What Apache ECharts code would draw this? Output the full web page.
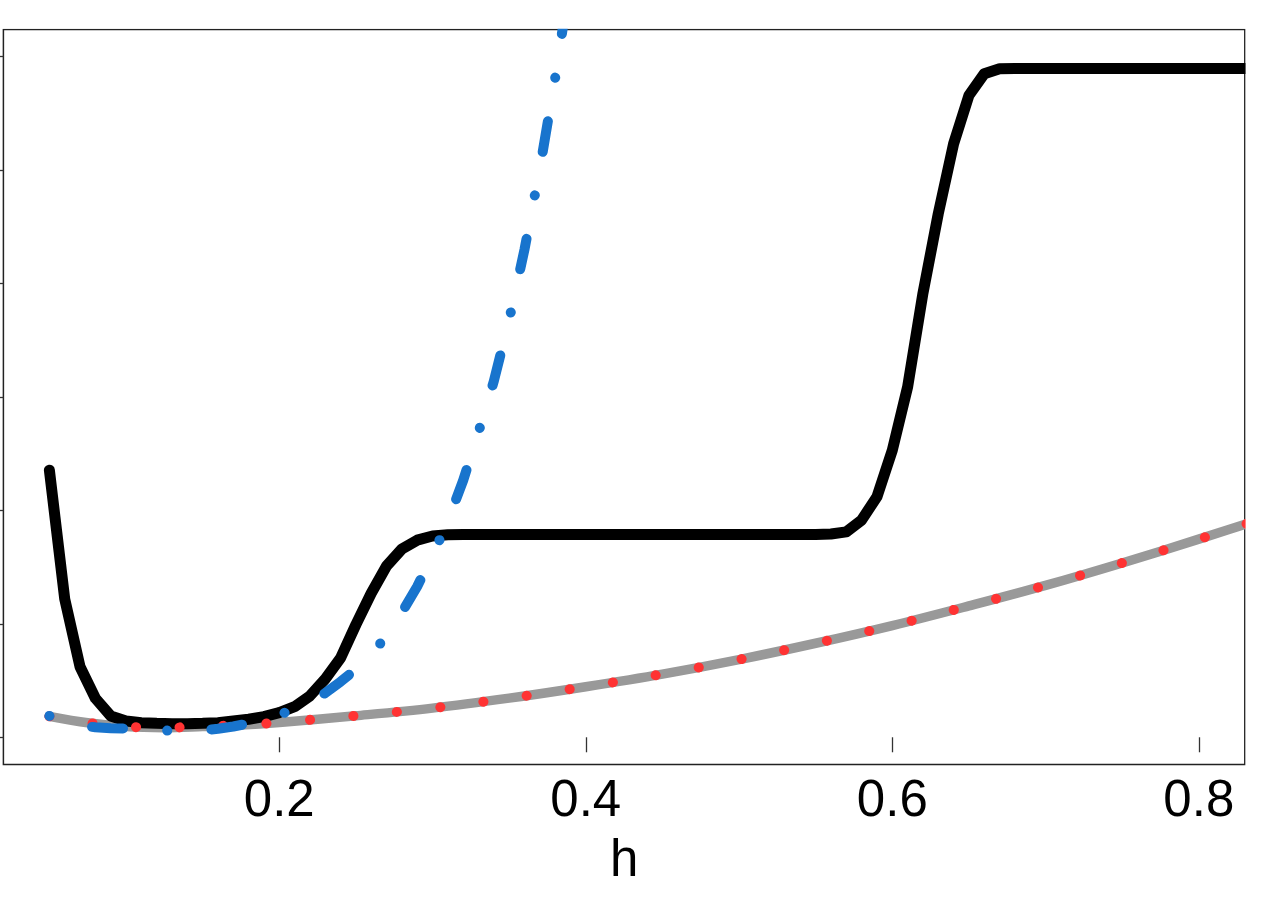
<!DOCTYPE html>
<html lang="en">
<head>
    <meta charset="UTF-8">
    <title>h curves</title>
</head>
<style>
    body{
        margin: 0;
        background-color: #fff;
    }
    .main{
        width: 1275px;
        height: 900px;
    }
</style>
<body>
<div id="main" class="main"></div>
<script src="https://cdn.jsdelivr.net/npm/echarts/dist/echarts.min.js"></script>
<script>
    // h grid used by the black and blue curves
    var hFine = [0.05,0.06,0.07,0.08,0.09,0.10,0.11,0.12,0.13,0.14,0.15,0.16,0.17,0.18,0.19,
        0.20,0.21,0.22,0.23,0.24,0.25,0.26,0.27,0.28,0.29,0.30,0.31,0.32,0.33,0.34,0.35,0.36,0.37,0.38,0.39,
        0.40,0.41,0.42,0.43,0.44,0.45,0.46,0.47,0.48,0.49,0.50,0.51,0.52,0.53,0.54,0.55,0.56,0.57,0.58,0.59,
        0.60,0.61,0.62,0.63,0.64,0.65,0.66,0.67,0.68,0.69,0.70,0.71,0.72,0.73,0.74,0.75,0.76,0.77,0.78,0.79,
        0.80,0.81,0.82,0.83,0.84,0.85];
    // black solid curve
    var blackVals = [2.355,1.22,0.622,0.344,0.188,0.144,0.129,0.123,0.120,0.120,0.123,0.129,0.144,0.159,0.182,
        0.217,0.270,0.365,0.514,0.699,0.993,1.27,1.51,1.66,1.738,1.774,1.785,1.788,1.788,1.788,1.788,1.788,1.788,1.788,1.788,
        1.788,1.788,1.788,1.788,1.788,1.788,1.788,1.788,1.788,1.788,1.788,1.788,1.788,1.788,1.788,1.788,1.792,1.811,1.915,2.120,
        2.531,3.089,3.915,4.617,5.233,5.659,5.850,5.894,5.897,5.897,5.897,5.897,5.897,5.897,5.897,5.897,5.897,5.897,5.897,5.897,
        5.897,5.897,5.897,5.897,5.897,5.897];
    // blue dot-dash curve (leaves the plot at the top)
    var blueVals = [0.188,0.135,0.105,0.088,0.080,0.078,0.068,0.061,0.058,0.058,0.062,0.075,0.095,0.122,0.155,
        0.195,0.255,0.315,0.390,0.490,0.600,0.735,0.890,1.100,1.330,1.600,1.905,2.265,2.690,3.140,3.680,4.300,5.010,5.810,6.700];
    // gray curve, red dotted line follows the same values
    var hCoarse = [0.05,0.075,0.10,0.125,0.15,0.175,0.20,0.25,0.30,0.35,0.40,0.45,0.50,0.55,0.60,0.65,0.70,0.75,0.80,0.85];
    var grayVals = [0.185,0.128,0.094,0.085,0.095,0.108,0.131,0.190,0.257,0.345,0.446,0.557,0.685,0.829,0.985,1.158,1.339,1.537,1.747,1.965];

    var xTicks = [0.2, 0.4, 0.6, 0.8];
    var yTicks = [0, 1, 2, 3, 4, 5, 6];

    function pairs(xs, ys) {
        var out = [];
        for (var i = 0; i < ys.length; i++) {
            out.push([xs[i], ys[i]]);
        }
        return out;
    }

    var app = echarts.init(document.getElementById('main'));

    var gridLeft = 3.4, gridTop = 29.5, gridW = 1241.4, gridH = 735;

    var option = {
        animation: false,
        grid: {
            left: gridLeft,
            top: gridTop,
            width: gridW,
            height: gridH,
            show: true,
            borderColor: '#222',
            borderWidth: 1.5,
            backgroundColor: 'transparent'
        },
        // white margins so the thick lines stop at the frame like R's clipping
        graphic: [
            {type: 'rect', z: 100, silent: true, shape: {x: 0, y: 0, width: 1275, height: gridTop - 0.8}, style: {fill: '#fff'}},
            {type: 'rect', z: 100, silent: true, shape: {x: gridLeft + gridW + 0.8, y: 0, width: 40, height: 900}, style: {fill: '#fff'}}
        ],
        xAxis: {
            type: 'value',
            min: 0.02,
            max: 0.83,
            name: 'h',
            nameLocation: 'middle',
            nameGap: 72,
            nameTextStyle: {
                fontSize: 51,
                color: '#000',
                fontFamily: 'Liberation Sans'
            },
            axisLine: {show: false},
            splitLine: {show: false},
            axisTick: {
                show: true,
                inside: false,
                length: 15,
                customValues: xTicks,
                lineStyle: {color: '#333', width: 1.3}
            },
            axisLabel: {
                show: true,
                margin: 12,
                customValues: xTicks,
                fontSize: 51,
                color: '#000',
                fontFamily: 'Liberation Sans',
                formatter: function (v) { return v.toFixed(1); }
            }
        },
        yAxis: {
            type: 'value',
            min: -0.24,
            max: 6.24,
            axisLine: {show: false},
            splitLine: {show: false},
            axisTick: {
                show: true,
                inside: false,
                length: 15,
                customValues: yTicks,
                lineStyle: {color: '#333', width: 1.3}
            },
            axisLabel: {show: false}
        },
        series: [
            {
                name: 'gray',
                type: 'line',
                data: pairs(hCoarse, grayVals),
                smooth: 0.35,
                showSymbol: false,
                lineStyle: {color: '#999999', width: 9.5, cap: 'round', join: 'round'}
            },
            {
                name: 'black',
                type: 'line',
                data: pairs(hFine, blackVals),
                showSymbol: false,
                lineStyle: {color: '#000', width: 11, cap: 'round', join: 'round'}
            },
            {
                name: 'red',
                type: 'line',
                data: pairs(hCoarse, grayVals),
                smooth: 0.35,
                showSymbol: false,
                lineStyle: {color: '#FF3333', width: 10, type: [0.1, 43.5], cap: 'round', join: 'round'}
            },
            {
                name: 'blue',
                type: 'line',
                data: pairs(hFine, blueVals),
                showSymbol: false,
                lineStyle: {color: '#1874CD', width: 10, type: [0.1, 44.2, 31, 44.2], cap: 'round', join: 'round'}
            }
        ]
    };
    app.setOption(option);
</script>
</body>
</html>
